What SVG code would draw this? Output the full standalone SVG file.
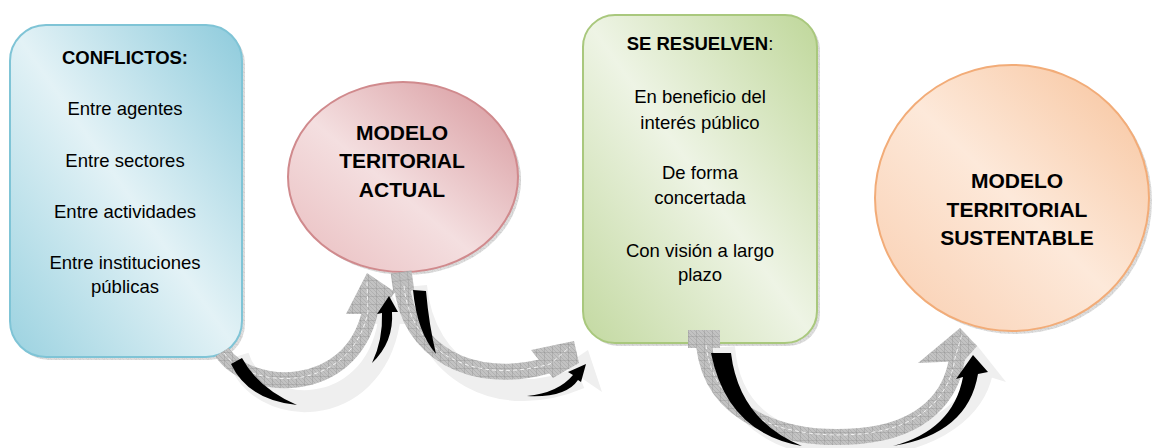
<svg xmlns="http://www.w3.org/2000/svg" width="1153" height="448" viewBox="0 0 1153 448">
<defs>
<linearGradient id="gBlue" x1="1" y1="0" x2="0" y2="1"><stop offset="0" stop-color="#8ecbdc"/><stop offset="0.5" stop-color="#e3f2f6"/><stop offset="1" stop-color="#9bd2e0"/></linearGradient>
<linearGradient id="gGreen" x1="1" y1="0" x2="0" y2="1"><stop offset="0" stop-color="#bfd79a"/><stop offset="0.5" stop-color="#eef4e5"/><stop offset="1" stop-color="#c3d9a1"/></linearGradient>
<linearGradient id="gRed" x1="1" y1="0" x2="0" y2="1"><stop offset="0" stop-color="#d6959a"/><stop offset="0.55" stop-color="#f4dfe0"/><stop offset="1" stop-color="#e9bcbe"/></linearGradient>
<linearGradient id="gOrange" x1="1" y1="0" x2="0" y2="1"><stop offset="0" stop-color="#f7c29a"/><stop offset="0.5" stop-color="#fde9da"/><stop offset="1" stop-color="#f9cdae"/></linearGradient>
<pattern id="hatch" width="8" height="8" patternUnits="userSpaceOnUse">
<rect width="8" height="8" fill="#c2c2c2"/>
<path d="M0 0 L8 8 M-2 6 L2 10 M6 -2 L10 2 M0 4 L4 8 M4 0 L8 4" stroke="#a6a6a6" stroke-width="0.6"/>
<path d="M0 0 H8 M0 0 V8" stroke="#8e8e8e" stroke-width="0.7"/>
</pattern>
</defs>
<style>
.body{font-family:"Liberation Sans",Arial,sans-serif;font-size:18.5px;fill:#000;text-anchor:middle}
.title{font-family:"Liberation Sans",Arial,sans-serif;font-size:21px;font-weight:bold;fill:#000;text-anchor:middle}
.hd{font-weight:bold}
.shadow{fill:url(#hatch);opacity:0.55}
.gray{fill:none;stroke:url(#hatch);stroke-width:16}
.grayhead{fill:url(#hatch)}
.stitch{fill:none;stroke:#ffffff;stroke-width:0.8;stroke-dasharray:4 3}
.white{fill:none;stroke:#efefef;stroke-width:22}
.whitehead{fill:#efefef}
.black{fill:#000}
</style>

<g id="node-conflictos">
<rect class="shadow" x="13" y="28" width="232" height="332" rx="36"/>
<rect x="10" y="25" width="232" height="332" rx="36" fill="url(#gBlue)" stroke="#7fc4d6" stroke-width="2"/>
<text class="body hd" x="125" y="64">CONFLICTOS:</text>
<text class="body" x="125" y="115">Entre agentes</text>
<text class="body" x="125" y="167">Entre sectores</text>
<text class="body" x="125" y="218">Entre actividades</text>
<text class="body" x="125" y="269">Entre instituciones</text>
<text class="body" x="125" y="293">públicas</text>
</g>

<g id="node-modelo-actual">
<ellipse class="shadow" cx="406" cy="180" rx="115" ry="95"/>
<ellipse cx="403" cy="177" rx="115" ry="95" fill="url(#gRed)" stroke="#d08a8d" stroke-width="2"/>
<text class="title" x="402" y="140">MODELO</text>
<text class="title" x="402" y="168">TERITORIAL</text>
<text class="title" x="402" y="197">ACTUAL</text>
</g>

<g id="node-se-resuelven">
<rect class="shadow" x="586" y="18" width="234" height="328" rx="32"/>
<rect x="583" y="15" width="234" height="328" rx="32" fill="url(#gGreen)" stroke="#a9c87d" stroke-width="2"/>
<text class="body" x="700" y="50"><tspan class="hd">SE RESUELVEN</tspan>:</text>
<text class="body" x="700" y="103">En beneficio del</text>
<text class="body" x="700" y="129">interés público</text>
<text class="body" x="700" y="179">De forma</text>
<text class="body" x="700" y="204">concertada</text>
<text class="body" x="700" y="257">Con visión a largo</text>
<text class="body" x="700" y="281">plazo</text>
</g>

<g id="node-modelo-sustentable">
<ellipse class="shadow" cx="1015" cy="201" rx="137" ry="133"/>
<ellipse cx="1012" cy="198" rx="137" ry="133" fill="url(#gOrange)" stroke="#f2ac78" stroke-width="2"/>
<text class="title" x="1017" y="188">MODELO</text>
<text class="title" x="1017" y="217">TERRITORIAL</text>
<text class="title" x="1017" y="245">SUSTENTABLE</text>
</g>

<g id="connectors">
<!-- connector 1: conflictos -> modelo actual -->
<path class="white" d="M238 356 C258 420 372 422 389 322"/>
<polygon class="whitehead" points="370,324 389,290 408,324"/>
<path class="gray" d="M222 352 C248 392 350 398 370 312"/>
<polygon class="grayhead" points="346,314 367,273 395,292 379,314"/>
<path class="stitch" d="M224 353 C250 390 350 395 368 312 L367 282"/>
<path class="black" d="M231 364 Q248 400 297 405 Q258 388 242 358 Z"/>
<path class="black" d="M372 363 Q383 340 382 313 L377 314 L389 296 L398 312 L392 312 Q394 342 372 363 Z"/>

<!-- connector 2: modelo actual -> se resuelven -->
<path class="white" d="M416 286 C424 372 500 412 580 378"/>
<polygon class="whitehead" points="564,366 588,350 602,392"/>
<rect x="392" y="272" width="21" height="20" fill="url(#hatch)" transform="rotate(-8 402 282)"/>
<path class="gray" d="M402 285 C408 350 470 388 550 365"/>
<polygon class="grayhead" points="531,350 574,341 579,363 553,378"/>
<path class="stitch" d="M404 286 C410 350 470 386 550 364 L570 347"/>
<path class="black" d="M413 290 Q417 332 436 354 Q429 325 426 291 Z"/>
<path class="black" d="M527 396 Q558 393 573 375 L568 372 L586 364 L581 382 L578 380 Q566 398 527 396 Z"/>

<!-- connector 3: se resuelven -> modelo sustentable -->
<path class="white" d="M724 347 C730 430 800 450 860 446 C940 442 975 405 982 372"/>
<polygon class="whitehead" points="954,366 975,343 1006,382"/>
<rect x="688" y="330" width="32" height="18" fill="url(#hatch)"/>
<path class="gray" d="M704 345 C712 420 790 442 860 436 C925 430 952 395 957 358"/>
<polygon class="grayhead" points="918,363 960,328 977,346 964,361"/>
<path class="stitch" d="M706 345 C714 418 790 440 860 434 C923 428 950 395 955 358 L962 334"/>
<path class="black" d="M711 353 L731 353 Q739 420 802 446 Q727 433 711 353 Z"/>
<path class="black" d="M893 446 Q953 430 963 377 L956 379 L973 355 L988 372 L978 374 Q968 434 893 446 Z"/>
</g>
</svg>
